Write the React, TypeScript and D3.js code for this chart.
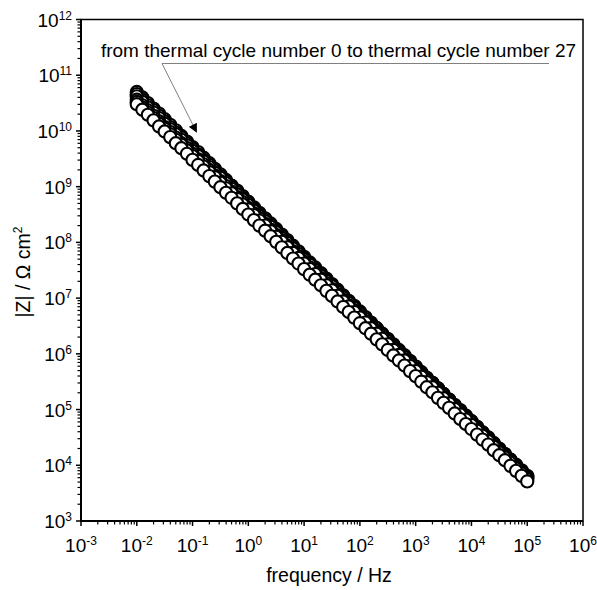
import React from 'react';
import * as d3 from 'd3';

// frequency grid: 10 points per decade from 10^-2 to 10^5 Hz
const DECADES = [-2, -1, 0, 1, 2, 3, 4];
const MANTISSAS = [1, 1.26, 1.58, 2, 2.51, 3.16, 3.98, 5.01, 6.31, 7.94];
const LAST_FREQ = 1e5;

// log10 |Z| (Ω cm²) per thermal cycle group
const LOGZ_A = [
  10.70, 10.60, 10.50, 10.40, 10.31, 10.21, 10.11, 10.01, 9.91, 9.81,
  9.71, 9.62, 9.52, 9.42, 9.32, 9.22, 9.12, 9.02, 8.93, 8.83,
  8.73, 8.63, 8.53, 8.43, 8.34, 8.24, 8.14, 8.04, 7.94, 7.84,
  7.74, 7.64, 7.55, 7.45, 7.35, 7.25, 7.15, 7.05, 6.95, 6.86,
  6.76, 6.66, 6.56, 6.46, 6.36, 6.27, 6.17, 6.07, 5.97, 5.87,
  5.77, 5.67, 5.57, 5.48, 5.38, 5.28, 5.18, 5.08, 4.98, 4.89,
  4.79, 4.69, 4.59, 4.49, 4.39, 4.29, 4.20, 4.10, 4.00, 3.90,
  3.80,
];
const LOGZ_F = [
  10.66, 10.56, 10.46, 10.37, 10.27, 10.17, 10.07, 9.97, 9.88, 9.78,
  9.68, 9.58, 9.48, 9.39, 9.29, 9.19, 9.09, 8.99, 8.90, 8.80,
  8.70, 8.60, 8.50, 8.41, 8.31, 8.21, 8.11, 8.01, 7.92, 7.82,
  7.72, 7.62, 7.52, 7.43, 7.33, 7.23, 7.13, 7.03, 6.94, 6.84,
  6.75, 6.65, 6.55, 6.46, 6.36, 6.26, 6.16, 6.06, 5.97, 5.87,
  5.77, 5.67, 5.57, 5.48, 5.38, 5.28, 5.18, 5.08, 4.99, 4.89,
  4.79, 4.69, 4.59, 4.50, 4.40, 4.30, 4.20, 4.10, 4.01, 3.91,
  3.81,
];
const LOGZ_B = [
  10.62, 10.52, 10.42, 10.33, 10.23, 10.13, 10.03, 9.94, 9.84, 9.74,
  9.64, 9.55, 9.45, 9.35, 9.25, 9.16, 9.06, 8.96, 8.86, 8.77,
  8.67, 8.57, 8.47, 8.38, 8.28, 8.18, 8.08, 7.99, 7.89, 7.79,
  7.69, 7.60, 7.50, 7.40, 7.30, 7.21, 7.11, 7.01, 6.91, 6.82,
  6.72, 6.62, 6.52, 6.42, 6.33, 6.23, 6.13, 6.03, 5.94, 5.84,
  5.74, 5.64, 5.55, 5.45, 5.35, 5.25, 5.16, 5.06, 4.96, 4.86,
  4.77, 4.67, 4.57, 4.48, 4.38, 4.28, 4.18, 4.08, 3.99, 3.89,
  3.79,
];
const LOGZ_C = [
  10.56, 10.46, 10.37, 10.27, 10.17, 10.07, 9.98, 9.88, 9.78, 9.69,
  9.59, 9.49, 9.40, 9.30, 9.20, 9.10, 9.01, 8.91, 8.81, 8.72,
  8.62, 8.52, 8.43, 8.33, 8.23, 8.13, 8.04, 7.94, 7.84, 7.75,
  7.65, 7.55, 7.46, 7.36, 7.26, 7.16, 7.07, 6.97, 6.87, 6.78,
  6.68, 6.58, 6.49, 6.39, 6.29, 6.19, 6.10, 6.00, 5.90, 5.81,
  5.71, 5.61, 5.52, 5.42, 5.32, 5.22, 5.13, 5.03, 4.93, 4.84,
  4.74, 4.64, 4.55, 4.45, 4.35, 4.25, 4.16, 4.06, 3.96, 3.87,
  3.77,
];
const LOGZ_D = [
  10.52, 10.42, 10.33, 10.23, 10.13, 10.04, 9.94, 9.84, 9.75, 9.65,
  9.55, 9.46, 9.36, 9.26, 9.17, 9.07, 8.97, 8.88, 8.78, 8.68,
  8.59, 8.49, 8.39, 8.30, 8.20, 8.10, 8.01, 7.91, 7.81, 7.72,
  7.62, 7.52, 7.43, 7.33, 7.23, 7.14, 7.04, 6.94, 6.85, 6.75,
  6.65, 6.56, 6.46, 6.36, 6.27, 6.17, 6.07, 5.98, 5.88, 5.78,
  5.69, 5.59, 5.49, 5.40, 5.30, 5.20, 5.11, 5.01, 4.91, 4.82,
  4.72, 4.62, 4.53, 4.43, 4.33, 4.23, 4.14, 4.04, 3.94, 3.85,
  3.75,
];
const LOGZ_E = [
  10.48, 10.38, 10.29, 10.19, 10.08, 9.99, 9.89, 9.78, 9.69, 9.59,
  9.48, 9.39, 9.29, 9.19, 9.09, 8.99, 8.89, 8.80, 8.70, 8.60,
  8.50, 8.40, 8.30, 8.21, 8.11, 8.01, 7.91, 7.81, 7.71, 7.62,
  7.52, 7.42, 7.33, 7.23, 7.13, 7.04, 6.94, 6.84, 6.75, 6.65,
  6.55, 6.46, 6.36, 6.26, 6.17, 6.07, 5.97, 5.88, 5.79, 5.69,
  5.60, 5.50, 5.40, 5.31, 5.21, 5.12, 5.03, 4.93, 4.83, 4.74,
  4.65, 4.55, 4.46, 4.37, 4.27, 4.18, 4.09, 3.99, 3.90, 3.81,
  3.71,
];
const SERIES = [LOGZ_A, LOGZ_F, LOGZ_B, LOGZ_C, LOGZ_D, LOGZ_E];

const X_EXPONENTS = [-3, -2, -1, 0, 1, 2, 3, 4, 5, 6];
const Y_EXPONENTS = [3, 4, 5, 6, 7, 8, 9, 10, 11, 12];
const MINOR_MULTIPLIERS = [2, 3, 4, 5, 6, 7, 8, 9];

const ANNOTATION = 'from thermal cycle number 0 to thermal cycle number 27';
const X_TITLE = 'frequency / Hz';

const FONT = '"Liberation Sans", Arial, sans-serif';

export default function App() {
  const W = 597, H = 590;
  const left = 81, right = 583, top = 19.5, bottom = 521;

  const frequencies = [...DECADES.flatMap((d) => MANTISSAS.map((m) => m * Math.pow(10, d))), LAST_FREQ];

  const x = d3.scaleLog().domain([1e-3, 1e6]).range([left, right]);
  const y = d3.scaleLog().domain([1e3, 1e12]).range([bottom, top]);

  const xMinor: number[] = [];
  X_EXPONENTS.slice(0, -1).forEach((e) => MINOR_MULTIPLIERS.forEach((m) => xMinor.push(m * Math.pow(10, e))));
  const yMinor: number[] = [];
  Y_EXPONENTS.slice(0, -1).forEach((e) => MINOR_MULTIPLIERS.forEach((m) => yMinor.push(m * Math.pow(10, e))));

  return (
    <svg width={W} height={H} style={{ position: 'absolute', left: 0, top: 0, display: 'block' }} fontFamily={FONT}>
      <rect x={0} y={0} width={W} height={H} fill="#fff" />
      <defs>
        <marker id="arrowhead" viewBox="0 0 10 10" refX="9" refY="5" markerWidth="9" markerHeight="9" orient="auto" markerUnits="userSpaceOnUse">
          <path d="M0,0 L10,5 L0,10 z" fill="#000" />
        </marker>
      </defs>

      {/* data */}
      <g>
        {SERIES.map((s, si) => (
          <g key={si}>
            {s.map((lz, i) => (
              <circle
                key={i}
                cx={x(frequencies[i])}
                cy={y(Math.pow(10, lz))}
                r={6.1}
                fill="#fff"
                stroke="#000"
                strokeWidth={2.1}
              />
            ))}
          </g>
        ))}
      </g>

      {/* frame */}
      <rect x={left} y={top} width={right - left} height={bottom - top} fill="none" stroke="#000" strokeWidth={1.5} />
      <line x1={left} x2={left} y1={top} y2={bottom + 1} stroke="#000" strokeWidth={2} />
      <line x1={left - 1} x2={right} y1={bottom} y2={bottom} stroke="#000" strokeWidth={2} />

      {/* x ticks */}
      {X_EXPONENTS.map((e) => (
        <line key={'xM' + e} x1={x(Math.pow(10, e))} x2={x(Math.pow(10, e))} y1={bottom} y2={bottom + 5} stroke="#000" strokeWidth={1.5} />
      ))}
      {xMinor.map((v, i) => (
        <line key={'xm' + i} x1={x(v)} x2={x(v)} y1={bottom} y2={bottom + 3.5} stroke="#000" strokeWidth={1.2} />
      ))}
      {/* y ticks */}
      {Y_EXPONENTS.map((e) => (
        <line key={'yM' + e} x1={left - 5} x2={left} y1={y(Math.pow(10, e))} y2={y(Math.pow(10, e))} stroke="#000" strokeWidth={1.5} />
      ))}
      {yMinor.map((v, i) => (
        <line key={'ym' + i} x1={left - 3.5} x2={left} y1={y(v)} y2={y(v)} stroke="#000" strokeWidth={1.2} />
      ))}

      {/* x tick labels */}
      {X_EXPONENTS.map((e) => (
        <text key={'xl' + e} x={x(Math.pow(10, e))} y={552} textAnchor="middle" fontSize={19} fill="#000">
          10<tspan dy={-7} fontSize={12}>{e < 0 ? '-' + Math.abs(e) : String(e)}</tspan>
        </text>
      ))}
      {/* y tick labels */}
      {Y_EXPONENTS.map((e) => (
        <text key={'yl' + e} x={72} y={y(Math.pow(10, e)) + 7} textAnchor="end" fontSize={19} fill="#000">
          10<tspan dy={-7} fontSize={12}>{String(e)}</tspan>
        </text>
      ))}

      {/* axis titles */}
      <text x={329} y={582} textAnchor="middle" fontSize={19.5} fill="#000">{X_TITLE}</text>
      <text transform="translate(30,272) rotate(-90)" textAnchor="middle" fontSize={19.5} fill="#000">
        |Z| / Ω cm<tspan dy={-8} fontSize={12}>2</tspan>
      </text>

      {/* annotation */}
      <text x={338.5} y={57} textAnchor="middle" fontSize={19} fill="#000">{ANNOTATION}</text>
      <line x1={162} y1={63.5} x2={549} y2={63.5} stroke="#808080" strokeWidth={1} />
      <line x1={162} y1={63.5} x2={196.5} y2={132} stroke="#808080" strokeWidth={1} markerEnd="url(#arrowhead)" />
    </svg>
  );
}
